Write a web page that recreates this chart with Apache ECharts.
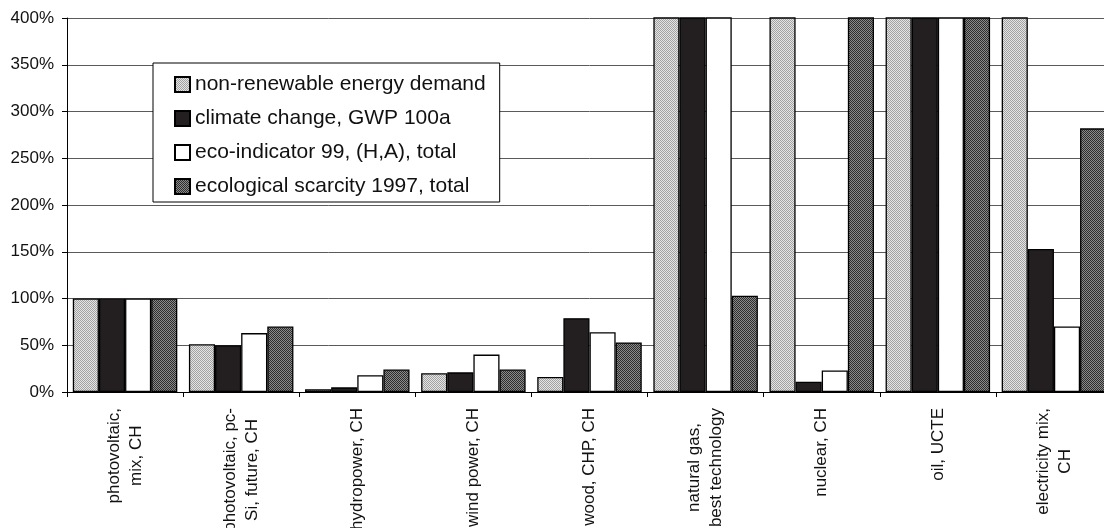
<!DOCTYPE html>
<html>
<head>
<meta charset="utf-8">
<script src="https://cdn.jsdelivr.net/npm/echarts@6/dist/echarts.min.js"></script>
<style>
  html, body { margin: 0; padding: 0; background: #fff; }
  /* the plot runs a little past the right edge, so the frame clips it */
  #frame { position: relative; width: 1104px; height: 528px; overflow: hidden; }
  #chart { position: absolute; left: 0; top: 0; width: 1114px; height: 528px; }
</style>
</head>
<body>
<div id="frame"><div id="chart"></div></div>
<script>
// Energy technologies, impacts relative to photovoltaic mix CH (= 100 %)
const categories = [
  'photovoltaic,\nmix, CH',
  'photovoltaic, pc-\nSi, future, CH',
  'hydropower, CH',
  'wind power, CH',
  'wood, CHP, CH',
  'natural gas,\nbest technology',
  'nuclear, CH',
  'oil, UCTE',
  'electricity mix,\nCH'
];
const seriesNames = [
  'non-renewable energy demand',
  'climate change, GWP 100a',
  'eco-indicator 99, (H,A), total',
  'ecological scarcity 1997, total'
];
// values in percent; values above 400 run off the top of the axis
const nonRenewable = [100, 51, 3, 20, 16, 1150, 1250, 1300, 640];
const climateChange = [100, 50, 5, 21, 79, 1050, 11, 1400, 153];
const ecoIndicator = [100, 63, 18, 40, 64, 620, 23, 900, 70];
const ecoScarcity = [100, 70, 24, 24, 53, 103, 1100, 1000, 282];
const yTicks = { min: 0, max: 400, interval: 50 };

// fine dither fills like a printed halftone
function dither(a, b) {
  const c = document.createElement('canvas');
  c.width = 2; c.height = 2;
  const g = c.getContext('2d');
  g.fillStyle = a; g.fillRect(0, 0, 2, 2);
  g.fillStyle = b; g.fillRect(0, 0, 1, 1); g.fillRect(1, 1, 1, 1);
  return { image: c, repeat: 'repeat' };
}
const fills = [
  dither('#e4e4e4', '#a2a2a2'),
  '#231f20',
  '#ffffff',
  dither('#8a8a8a', '#2e2e2e')
];
const values = [nonRenewable, climateChange, ecoIndicator, ecoScarcity];

const chart = echarts.init(document.getElementById('chart'), null, { renderer: 'canvas', width: 1114, height: 528 });
chart.setOption({
  backgroundColor: '#ffffff',
  animation: false,
  textStyle: { fontFamily: 'Liberation Sans, Arial, sans-serif' },
  grid: { left: 67, top: 18, right: 2, bottom: 136, containLabel: false, outerBoundsMode: 'none' },
  legend: {
    orient: 'vertical',
    left: 153,
    top: 63,
    padding: [11, 14, 5, 21],
    itemGap: 13,
    itemWidth: 15,
    itemHeight: 15,
    icon: 'rect',
    backgroundColor: '#ffffff',
    borderColor: '#000000',
    borderWidth: 1,
    textStyle: { fontSize: 21, lineHeight: 21, color: '#111', fontFamily: 'Liberation Sans, Arial, sans-serif' },
    data: seriesNames
  },
  xAxis: {
    type: 'category',
    data: categories,
    boundaryGap: true,
    axisLine: { lineStyle: { color: '#000', width: 1 } },
    axisTick: { show: true, interval: 0, length: 5, lineStyle: { color: '#000' } },
    axisLabel: {
      interval: 0,
      rotate: 90,
      margin: 16,
      color: '#111',
      fontSize: 17,
      lineHeight: 22,
      formatter: function (v) {
        return v.split('\n').map(function (s) { return '{c|' + s + '}'; }).join('\n');
      },
      rich: { c: { align: 'center', fontSize: 17, lineHeight: 22, color: '#111' } }
    },
    splitLine: { show: false }
  },
  yAxis: {
    type: 'value',
    min: yTicks.min,
    max: yTicks.max,
    interval: yTicks.interval,
    axisLine: { show: true, lineStyle: { color: '#000', width: 1 } },
    axisTick: { show: true, length: 5, lineStyle: { color: '#000' } },
    axisLabel: { formatter: '{value}%', fontSize: 17, color: '#111', margin: 13 },
    splitLine: { show: true, lineStyle: { color: '#5a5a5a', width: 1 } }
  },
  series: seriesNames.map(function (name, i) {
    return {
      name: name,
      type: 'bar',
      data: values[i],
      barGap: '0%',
      barCategoryGap: '10%',
      clip: true,
      itemStyle: { color: fills[i], borderColor: '#000', borderWidth: 1.3 }
    };
  })
});
</script>
</body>
</html>
